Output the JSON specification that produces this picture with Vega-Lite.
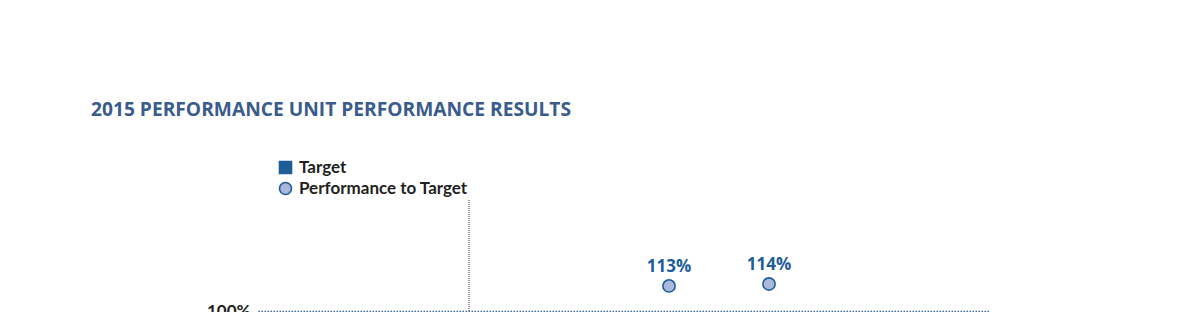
{
  "$schema": "https://vega.github.io/schema/vega-lite/v6.json",
  "autosize": "none",
  "padding": {"left": 258, "top": 200, "right": 210, "bottom": 1},
  "width": 732,
  "height": 111,
  "title": {
    "text": "2015 PERFORMANCE UNIT PERFORMANCE RESULTS",
    "anchor": "start",
    "frame": "group",
    "dx": -167,
    "offset": 39,
    "font": "Open Sans",
    "fontSize": 19.2,
    "fontWeight": "bold",
    "color": "#3a5c8c"
  },
  "config": {"view": {"stroke": null}},
  "layer": [
    {
      "data": {"values": [{"metric": "C", "from": 100, "to": 157.5}]},
      "mark": {"type": "rule", "color": "#333333", "strokeWidth": 1, "strokeDash": [1, 1]},
      "encoding": {
        "x": {"field": "metric", "type": "nominal", "axis": null,
          "scale": {"type": "point", "domain": ["A","B","C","D","E","F","G","H"], "padding": 0.16, "align": 0.344}},
        "y": {"field": "from", "type": "quantitative",
          "scale": {"domain": [100, 157.5], "nice": false, "zero": false},
          "axis": {"values": [100], "labelExpr": "datum.value + '%'", "domain": false, "ticks": false,
            "labelPadding": 8, "labelFlush": false, "labelFont": "Lato", "labelFontSize": 17, "labelFontWeight": "bold",
            "labelColor": "#231f20", "grid": true, "gridColor": "#2f65a0", "gridDash": [1.5, 1.5], "gridWidth": 1.5, "title": null}},
        "y2": {"field": "to"}
      }
    },
    {
      "data": {"values": [
        {"metric": "E", "value": 113, "label": "113%", "series": "Performance to Target"},
        {"metric": "F", "value": 114, "label": "114%", "series": "Performance to Target"}
      ]},
      "layer": [
        {
          "mark": {"type": "point", "filled": true, "opacity": 1, "size": 150, "stroke": "#1f5d99", "strokeWidth": 1.6},
          "encoding": {
            "x": {"field": "metric", "type": "nominal"},
            "y": {"field": "value", "type": "quantitative"},
            "color": {"field": "series", "type": "nominal",
              "scale": {"domain": ["Target", "Performance to Target"], "range": ["#1f5d99", "#a9b8dc"]},
              "legend": {"orient": "none", "legendX": 19, "legendY": -41, "title": null,
                "labelFont": "Lato", "labelFontSize": 17, "labelFontWeight": "bold", "labelColor": "#231f20", "labelLimit": 400,
                "symbolSize": 144, "symbolStrokeColor": "#1f5d99", "symbolStrokeWidth": 1.6, "rowPadding": 2, "labelOffset": 5}},
            "shape": {"field": "series", "type": "nominal",
              "scale": {"domain": ["Target", "Performance to Target"], "range": ["square", "circle"]}}
          }
        },
        {
          "mark": {"type": "text", "dy": -19, "font": "Open Sans", "fontSize": 17, "fontWeight": "bold", "color": "#1f5d99"},
          "encoding": {
            "x": {"field": "metric", "type": "nominal"},
            "y": {"field": "value", "type": "quantitative"},
            "text": {"field": "label", "type": "nominal"}
          }
        }
      ]
    }
  ]
}
